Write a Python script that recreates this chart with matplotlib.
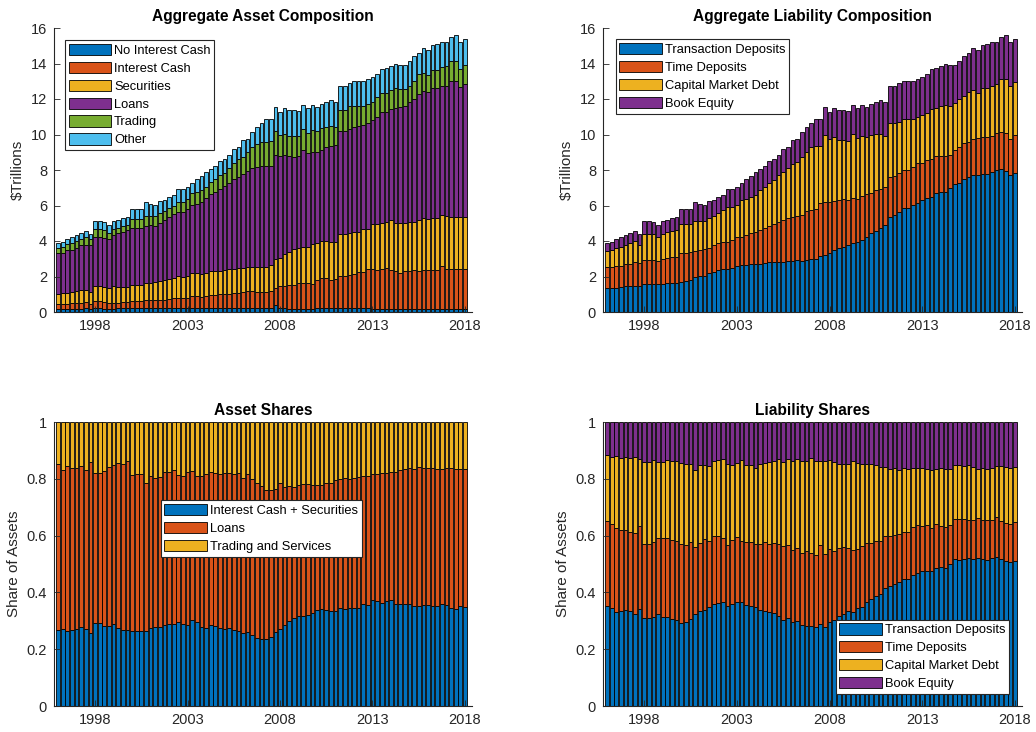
import matplotlib
matplotlib.use("Agg")
import matplotlib.pyplot as plt
import numpy as np

plt.rcParams['font.family'] = ['Liberation Sans', 'DejaVu Sans']

# quarterly observations, 1996Q1 .. 2018Q1
n_q = 89
quarters = 1996 + 0.25 * np.arange(n_q)

# total assets (= total liabilities + equity), $ trillions
total = [3.90, 3.97, 4.12, 4.20, 4.33, 4.46, 4.58, 4.37, 5.12, 5.12,
         5.05, 4.88, 5.10, 5.18, 5.31, 5.35, 5.78, 5.82, 5.82, 6.18,
         6.06, 6.05, 6.23, 6.29, 6.46, 6.61, 6.91, 6.93, 7.04, 7.29,
         7.50, 7.66, 7.87, 8.06, 8.25, 8.49, 8.64, 8.87, 9.19, 9.32,
         9.68, 9.74, 10.13, 10.45, 10.64, 10.85, 10.85, 11.56, 11.24, 11.47,
         11.36, 11.36, 11.32, 11.66, 11.49, 11.64, 11.56, 11.71, 11.83, 11.92,
         11.81, 12.75, 12.73, 12.90, 13.03, 13.03, 13.03, 13.14, 13.24, 13.43,
         13.71, 13.73, 13.88, 13.97, 13.90, 13.90, 14.12, 14.41, 14.61, 14.86,
         14.78, 15.05, 15.10, 15.20, 15.20, 15.50, 15.59, 15.20, 15.40]

# asset side: cumulative stack tops, $ trillions
top_no_int_cash = [0.19, 0.19, 0.19, 0.19, 0.19, 0.19, 0.20, 0.19, 0.20, 0.20,
                   0.19, 0.19, 0.19, 0.20, 0.20, 0.20, 0.21, 0.21, 0.21, 0.21,
                   0.21, 0.21, 0.21, 0.21, 0.22, 0.22, 0.22, 0.22, 0.22, 0.23,
                   0.23, 0.23, 0.23, 0.24, 0.24, 0.24, 0.24, 0.24, 0.24, 0.25,
                   0.25, 0.25, 0.25, 0.25, 0.25, 0.25, 0.25, 0.40, 0.20, 0.20,
                   0.19, 0.19, 0.19, 0.19, 0.19, 0.19, 0.20, 0.20, 0.20, 0.20,
                   0.20, 0.22, 0.22, 0.22, 0.22, 0.21, 0.21, 0.21, 0.19, 0.18,
                   0.18, 0.18, 0.18, 0.18, 0.17, 0.17, 0.17, 0.17, 0.16, 0.16,
                   0.16, 0.16, 0.16, 0.16, 0.16, 0.16, 0.16, 0.16, 0.16]
top_int_cash = [0.43, 0.47, 0.47, 0.49, 0.50, 0.50, 0.55, 0.43, 0.60, 0.60,
                0.55, 0.50, 0.52, 0.52, 0.55, 0.55, 0.62, 0.62, 0.62, 0.66,
                0.66, 0.66, 0.70, 0.70, 0.73, 0.77, 0.81, 0.81, 0.79, 0.89,
                0.89, 0.83, 0.92, 0.96, 0.98, 1.00, 1.02, 1.04, 1.07, 1.09,
                1.13, 1.17, 1.17, 1.13, 1.15, 1.15, 1.17, 1.37, 1.45, 1.45,
                1.51, 1.54, 1.64, 1.64, 1.64, 1.60, 1.79, 1.92, 1.94, 1.83,
                1.85, 2.02, 2.05, 2.07, 2.13, 2.26, 2.26, 2.45, 2.43, 2.39,
                2.45, 2.50, 2.35, 2.30, 2.22, 2.32, 2.32, 2.39, 2.30, 2.39,
                2.39, 2.39, 2.37, 2.58, 2.45, 2.45, 2.45, 2.45, 2.45]
top_securities = [1.04, 1.07, 1.09, 1.13, 1.17, 1.24, 1.24, 1.13, 1.49, 1.49,
                  1.43, 1.37, 1.47, 1.43, 1.43, 1.43, 1.53, 1.53, 1.54, 1.64,
                  1.66, 1.68, 1.73, 1.79, 1.86, 1.90, 2.05, 2.00, 2.02, 2.20,
                  2.22, 2.13, 2.17, 2.30, 2.32, 2.32, 2.35, 2.43, 2.45, 2.47,
                  2.49, 2.54, 2.52, 2.52, 2.52, 2.56, 2.62, 3.00, 3.06, 3.28,
                  3.40, 3.53, 3.58, 3.68, 3.68, 3.83, 3.90, 4.00, 3.99, 3.97,
                  3.96, 4.39, 4.37, 4.44, 4.48, 4.50, 4.69, 4.67, 4.93, 4.97,
                  4.99, 5.07, 5.16, 5.02, 4.99, 4.99, 5.07, 5.07, 5.16, 5.31,
                  5.25, 5.31, 5.31, 5.44, 5.39, 5.35, 5.35, 5.35, 5.37]
top_loans = [3.33, 3.30, 3.48, 3.52, 3.63, 3.77, 3.80, 3.75, 4.20, 4.20,
             4.18, 4.10, 4.33, 4.43, 4.52, 4.61, 4.71, 4.75, 4.75, 4.86,
             4.90, 4.86, 5.03, 5.18, 5.33, 5.50, 5.63, 5.61, 5.80, 6.03,
             6.08, 6.21, 6.44, 6.63, 6.78, 6.93, 7.10, 7.29, 7.50, 7.63,
             7.78, 7.97, 8.10, 8.19, 8.25, 8.25, 8.25, 8.85, 8.81, 8.85,
             8.81, 8.76, 8.79, 9.10, 8.98, 9.04, 9.00, 9.13, 9.28, 9.36,
             9.40, 10.17, 10.20, 10.32, 10.45, 10.49, 10.55, 10.64, 10.83, 10.98,
             11.24, 11.26, 11.43, 11.49, 11.54, 11.58, 11.81, 12.02, 12.30, 12.45,
             12.37, 12.62, 12.62, 12.71, 12.75, 12.99, 13.03, 12.66, 12.84]
top_trading = [3.63, 3.67, 3.82, 3.90, 4.01, 4.14, 4.20, 4.09, 4.65, 4.65,
               4.61, 4.43, 4.65, 4.75, 4.84, 4.88, 5.22, 5.25, 5.25, 5.40,
               5.40, 5.40, 5.59, 5.67, 5.84, 5.97, 6.20, 6.20, 6.37, 6.69,
               6.78, 6.87, 7.02, 7.33, 7.48, 7.72, 7.85, 8.10, 8.38, 8.64,
               8.72, 9.04, 9.32, 9.47, 9.60, 9.60, 9.62, 10.17, 9.96, 10.04,
               9.94, 9.92, 9.91, 10.32, 10.08, 10.23, 10.21, 10.36, 10.45, 10.49,
               10.45, 11.36, 11.36, 11.58, 11.62, 11.62, 11.62, 11.73, 11.85, 12.11,
               12.34, 12.34, 12.49, 12.62, 12.56, 12.56, 12.75, 12.99, 13.43, 13.47,
               13.37, 13.62, 13.65, 13.79, 13.84, 14.12, 14.12, 13.69, 13.94]

# liability side: cumulative stack tops, $ trillions
top_trans_dep = [1.37, 1.37, 1.37, 1.41, 1.47, 1.49, 1.49, 1.49, 1.58, 1.58,
                 1.58, 1.58, 1.60, 1.62, 1.62, 1.62, 1.69, 1.73, 1.79, 2.00,
                 2.02, 2.05, 2.17, 2.26, 2.35, 2.43, 2.43, 2.50, 2.58, 2.66,
                 2.67, 2.69, 2.73, 2.73, 2.77, 2.81, 2.84, 2.81, 2.79, 2.88,
                 2.88, 2.93, 2.89, 2.93, 3.00, 3.00, 3.15, 3.21, 3.34, 3.49,
                 3.59, 3.68, 3.77, 3.87, 3.96, 4.06, 4.24, 4.43, 4.58, 4.71,
                 4.90, 5.37, 5.46, 5.65, 5.84, 5.84, 6.03, 6.16, 6.31, 6.40,
                 6.50, 6.69, 6.78, 6.78, 6.97, 7.21, 7.25, 7.47, 7.59, 7.70,
                 7.72, 7.77, 7.77, 7.90, 8.00, 8.04, 7.96, 7.72, 7.85]
top_time_dep = [2.54, 2.54, 2.58, 2.60, 2.69, 2.73, 2.79, 2.77, 2.92, 2.92,
                2.92, 2.88, 3.01, 3.07, 3.11, 3.11, 3.30, 3.30, 3.37, 3.45,
                3.48, 3.56, 3.63, 3.77, 3.86, 3.92, 3.92, 4.05, 4.20, 4.24,
                4.33, 4.43, 4.48, 4.61, 4.76, 4.84, 4.95, 5.05, 5.18, 5.27,
                5.33, 5.41, 5.46, 5.71, 5.75, 5.78, 6.16, 6.18, 6.22, 6.27,
                6.31, 6.35, 6.31, 6.40, 6.37, 6.54, 6.63, 6.72, 6.87, 6.91,
                7.06, 7.62, 7.68, 7.81, 8.00, 8.00, 8.19, 8.38, 8.41, 8.56,
                8.60, 8.79, 8.79, 8.79, 8.85, 9.13, 9.28, 9.50, 9.58, 9.73,
                9.78, 9.84, 9.88, 9.93, 10.10, 10.12, 10.07, 9.73, 9.97]
top_cap_mkt = [3.45, 3.48, 3.63, 3.67, 3.80, 3.90, 4.01, 3.80, 4.39, 4.39,
               4.37, 4.20, 4.39, 4.48, 4.58, 4.61, 4.95, 4.95, 4.95, 5.14,
               5.14, 5.14, 5.27, 5.42, 5.59, 5.74, 5.89, 5.89, 6.03, 6.31,
               6.37, 6.50, 6.59, 6.87, 7.06, 7.29, 7.44, 7.72, 7.91, 8.10,
               8.34, 8.47, 8.75, 9.03, 9.31, 9.35, 9.36, 9.98, 9.74, 9.85,
               9.70, 9.70, 9.66, 10.04, 9.83, 9.92, 9.85, 9.98, 10.04, 10.04,
               9.92, 10.66, 10.66, 10.72, 10.90, 10.86, 10.90, 11.00, 11.09, 11.19,
               11.41, 11.47, 11.62, 11.64, 11.60, 11.79, 11.98, 12.17, 12.41, 12.50,
               12.35, 12.60, 12.60, 12.73, 12.82, 13.10, 13.12, 12.73, 12.96]

asset_labels = ['No Interest Cash', 'Interest Cash', 'Securities', 'Loans', 'Trading', 'Other']
liab_labels = ['Transaction Deposits', 'Time Deposits', 'Capital Market Debt', 'Book Equity']
asset_share_labels = ['Interest Cash + Securities', 'Loans', 'Trading and Services']

colors = ['#0072BD', '#D95319', '#EDB120', '#7E2F8E', '#77AC30', '#4DBEEE']
txt = '#262626'

total = np.array(total)
asset_edges = [np.zeros(n_q), np.array(top_no_int_cash), np.array(top_int_cash),
               np.array(top_securities), np.array(top_loans), np.array(top_trading), total]
liab_edges = [np.zeros(n_q), np.array(top_trans_dep), np.array(top_time_dep),
              np.array(top_cap_mkt), total]

asset_share_edges = [np.zeros(n_q), asset_edges[3] / total, asset_edges[4] / total, np.ones(n_q)]
liab_share_edges = [e / total for e in liab_edges]

W, H = 1036, 732
fig = plt.figure(figsize=(W / 100, H / 100), dpi=100)


def make_ax(l, t, r, b):
    return fig.add_axes([l / W, 1 - b / H, (r - l) / W, (b - t) / H])


ax_tl = make_ax(54, 28, 472, 312)
ax_tr = make_ax(603, 28, 1022, 312)
ax_bl = make_ax(54, 422, 472, 706)
ax_br = make_ax(603, 422, 1022, 706)

bw = 0.8 * 0.25


def stack(ax, edges, labels):
    handles = []
    for k in range(len(edges) - 1):
        h = ax.bar(quarters, edges[k + 1] - edges[k], bottom=edges[k], width=bw,
                   color=colors[k], edgecolor='black', linewidth=0.6, label=labels[k])
        handles.append(h)
    return handles


def style(ax, title, ylabel, ylim, yticks, ylabs):
    ax.set_xlim(1995.78, 2018.38)
    ax.set_ylim(*ylim)
    ax.set_xticks([1998, 2003, 2008, 2013, 2018])
    ax.set_yticks(yticks)
    ax.set_yticklabels(ylabs)
    ax.spines['top'].set_visible(False)
    ax.spines['right'].set_visible(False)
    for s in ['left', 'bottom']:
        ax.spines[s].set_color(txt)
        ax.spines[s].set_linewidth(0.8)
    ax.tick_params(direction='in', length=4, width=0.6, colors=txt, labelsize=10.5, pad=5)
    ax.set_title(title, fontsize=11.2, fontweight='bold', pad=5)
    ax.set_ylabel(ylabel, fontsize=11, color=txt, labelpad=4)


def legend(ax, loc, anchor):
    lg = ax.legend(loc=loc, bbox_to_anchor=anchor, fontsize=9.3, frameon=True,
                   fancybox=False, framealpha=1, edgecolor=txt, borderpad=0.3,
                   handlelength=3.3, handleheight=0.95, handletextpad=0.2,
                   labelspacing=0.38, borderaxespad=0)
    lg.get_frame().set_linewidth(0.8)
    return lg


stack(ax_tl, asset_edges, asset_labels)
style(ax_tl, 'Aggregate Asset Composition', '\\$Trillions', (0, 16),
      range(0, 17, 2), [str(v) for v in range(0, 17, 2)])
legend(ax_tl, 'upper left', (0.026, 0.958))

stack(ax_tr, liab_edges, liab_labels)
style(ax_tr, 'Aggregate Liability Composition', '\\$Trillions', (0, 16),
      range(0, 17, 2), [str(v) for v in range(0, 17, 2)])
legend(ax_tr, 'upper left', (0.030, 0.961))

share_ticks = [0, 0.2, 0.4, 0.6, 0.8, 1]
share_labs = ['0', '0.2', '0.4', '0.6', '0.8', '1']

stack(ax_bl, asset_share_edges, asset_share_labels)
style(ax_bl, 'Asset Shares', 'Share of Assets', (0, 1), share_ticks, share_labs)
legend(ax_bl, 'upper left', (0.255, 0.725))

stack(ax_br, liab_share_edges, liab_labels)
style(ax_br, 'Liability Shares', 'Share of Assets', (0, 1), share_ticks, share_labs)
legend(ax_br, 'lower right', (0.969, 0.042))

fig.savefig('out.png', dpi=100)
